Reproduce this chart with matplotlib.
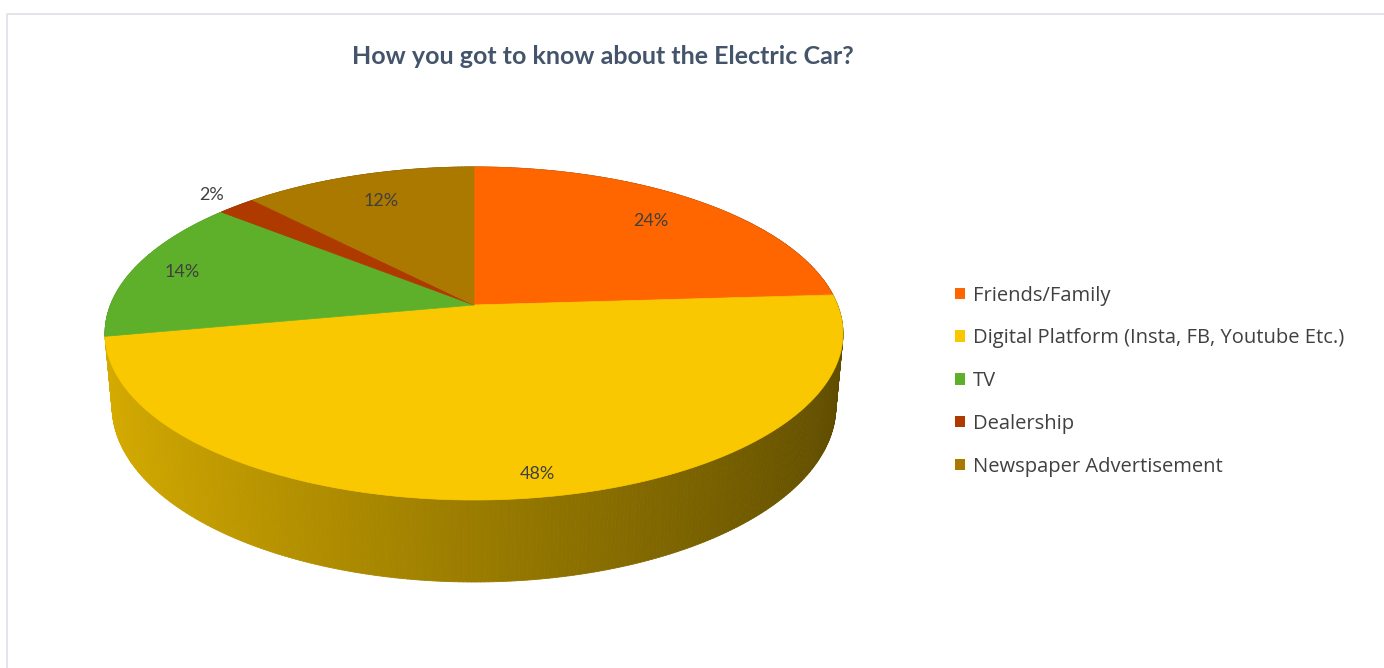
import numpy as np
import matplotlib.pyplot as plt
from matplotlib.patches import Polygon, Patch
from matplotlib.collections import PolyCollection

plt.rcParams['font.family'] = ['Lato', 'DejaVu Sans']

categories = ['Friends/Family', 'Digital Platform (Insta, FB, Youtube Etc.)',
              'TV', 'Dealership', 'Newspaper Advertisement']
shares = [24, 48, 14, 2, 12]
pct_labels = ['24%', '48%', '14%', '2%', '12%']
colors = ['#FF6600', '#F9C800', '#5EB02B', '#AE3A00', '#AB7800']

# 3d pie camera, in pixels of the 1384x668 canvas
CX, CY = 474, 305
F, D, H = 1905.0, 5.24, 0.225
ALPHA = np.arcsin(0.4447)
label_r = [0.78, 0.9, 0.86, 1.12, 0.78]


def project(u, v, z=0.0):
    depth = D + v * np.cos(ALPHA) - z * np.sin(ALPHA)
    y3 = v * np.sin(ALPHA) + z * np.cos(ALPHA)
    return CX + F * u / depth, CY - F * y3 / depth


def shade(hex_color, f):
    rgb = np.array([int(hex_color[i:i + 2], 16) for i in (1, 3, 5)]) / 255.0
    return tuple(np.clip(rgb * f, 0, 1))


fig = plt.figure(figsize=(13.84, 6.68), dpi=100)
ax = fig.add_axes([0, 0, 1, 1])
ax.set_xlim(0, 1384)
ax.set_ylim(668, 0)
ax.axis('off')

# chart frame
ax.plot([7, 7, 1384], [668, 14, 14], color='#DDE1E7', lw=1.2, zorder=0)

fracs = np.array(shares) / np.sum(shares)
starts = np.concatenate([[0], np.cumsum(fracs)[:-1]]) * 2 * np.pi
ends = np.cumsum(fracs) * 2 * np.pi

# side wall, drawn back to front
quads, qcols, qdepth = [], [], []
for s, e, c in zip(starts, ends, colors):
    n = max(4, int((e - s) / 0.01))
    phi = np.pi / 2 - np.linspace(s, e, n)
    for p0, p1 in zip(phi[:-1], phi[1:]):
        u0, v0, u1, v1 = np.cos(p0), np.sin(p0), np.cos(p1), np.sin(p1)
        pts = [project(u0, v0), project(u1, v1),
               project(u1, v1, -H), project(u0, v0, -H)]
        um = (u0 + u1) / 2
        quads.append(pts)
        qcols.append(shade(c, 0.62 - 0.245 * um))
        qdepth.append((v0 + v1) / 2)
order = np.argsort(qdepth)[::-1]
ax.add_collection(PolyCollection([quads[i] for i in order],
                                 facecolors=[qcols[i] for i in order],
                                 edgecolors=[qcols[i] for i in order],
                                 linewidths=0.6, zorder=1))

# top face
for s, e, c in zip(starts, ends, colors):
    n = max(4, int((e - s) / 0.01))
    phi = np.pi / 2 - np.linspace(s, e, n)
    pts = [project(0, 0)] + [project(np.cos(p), np.sin(p)) for p in phi]
    ax.add_patch(Polygon(pts, closed=True, facecolor=c, edgecolor=c,
                         lw=0.5, zorder=2))

# data labels
for i, (s, e, lab, r) in enumerate(zip(starts, ends, pct_labels, label_r)):
    pm = np.pi / 2 - (s + e) / 2
    if i == 1:
        pm += 0.04
    x, y = project(r * np.cos(pm), r * np.sin(pm))
    ax.text(x, y, lab, ha='center', va='center', fontsize=13,
            color='#404040', zorder=3)

ax.text(603, 56, 'How you got to know about the Electric Car?',
        ha='center', va='center', fontsize=18, fontweight='bold',
        color='#44546A')

handles = [Patch(facecolor=c, edgecolor='none') for c in colors]
fig.legend(handles, categories, loc='upper left',
           bbox_to_anchor=(955 / 1384, 1 - 285.5 / 668),
           frameon=False, prop={'family': 'Open Sans', 'size': 14.5},
           labelspacing=1.13,
           handlelength=0.5, handleheight=0.5, handletextpad=0.4,
           borderpad=0, borderaxespad=0, labelcolor='#404040')

fig.savefig('out.png', dpi=100)
